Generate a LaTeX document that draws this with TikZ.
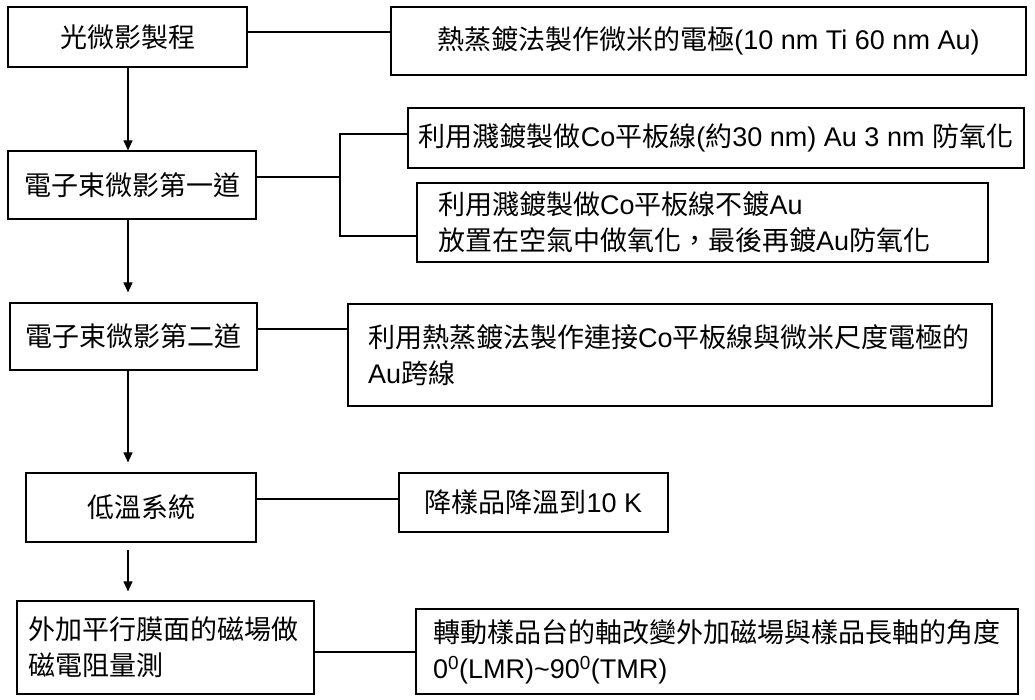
\documentclass[tikz,border=0pt]{standalone}
\usepackage{fontspec}
\setmainfont{Liberation Sans}
\newfontfamily\cjk{Noto Sans CJK TC}
\usetikzlibrary{arrows.meta}
\begin{document}
\begin{tikzpicture}[x=1pt,y=-1pt,
  box/.style={draw=black, line width=1.2pt, inner sep=0pt, font=\fontsize{27}{36}\selectfont, align=center},
  lbox/.style={box, align=left},
  conn/.style={line width=1.1pt},
  arr/.style={conn, -{Triangle[width=9pt,length=10pt]}}]
\useasboundingbox (0,0) rectangle (1035,700);

\node[box, minimum width=239pt, minimum height=60pt] (A) at (127.5,37) {{\cjk 光微影製程}};
\node[box, minimum width=635pt, minimum height=68pt] (B) at (708.5,41) {{\cjk 熱蒸鍍法製作微米的電極}(10 nm Ti 60 nm Au)};
\node[box, minimum width=248pt, minimum height=68pt] (C) at (132,185) {{\cjk 電子束微影第一道}};
\node[box, minimum width=616pt, minimum height=60pt] (D) at (716,138) {{\cjk 利用濺鍍製做}Co{\cjk 平板線}({\cjk 約}30 nm) Au 3 nm {\cjk 防氧化}};
\node[lbox, inner xsep=21pt, text width=529pt, minimum height=79pt] (E) at (702.5,222.5) {{\cjk 利用濺鍍製做}Co{\cjk 平板線不鍍}Au\\{\cjk 放置在空氣中做氧化，最後再鍍}Au{\cjk 防氧化}};
\node[box, minimum width=247pt, minimum height=67pt] (F) at (133.5,336.5) {{\cjk 電子束微影第二道}};
\node[lbox, inner xsep=20pt, text width=604pt, minimum height=102pt] (G) at (670,355) {{\cjk 利用熱蒸鍍法製作連接}Co{\cjk 平板線與微米尺度電極的}\\Au{\cjk 跨線}};
\node[box, minimum width=230pt, minimum height=69pt] (H) at (141,507.5) {{\cjk 低溫系統}};
\node[box, minimum width=269pt, minimum height=59pt] (I) at (533.5,502.5) {{\cjk 降樣品降溫到}10 K};
\node[lbox, inner xsep=11pt, text width=275pt, minimum height=93pt] (J) at (165.5,647.5) {{\cjk 外加平行膜面的磁場做}\\{\cjk 磁電阻量測}};
\node[lbox, inner xsep=17pt, text width=568pt, minimum height=85pt] (K) at (717,651.5) {{\cjk 轉動樣品台的軸改變外加磁場與樣品長軸的角度}\\0\textsuperscript{0}(LMR)\textasciitilde 90\textsuperscript{0}(TMR)};

\coordinate (ax) at (128,0);
\coordinate (lAB) at (0,32);
\coordinate (bm) at (340,177);
\coordinate (bt) at (340,134);
\coordinate (bb) at (340,236);
\coordinate (lFG) at (0,329);
\coordinate (lHI) at (0,499);
\coordinate (lJK) at (0,652);

\draw[arr] (A.south -| ax) -- (C.north -| ax);
\draw[arr, shorten >=10pt] (C.south -| ax) -- (F.north -| ax);
\draw[arr, shorten >=10pt] (F.south -| ax) -- (H.north -| ax);
\draw[arr, shorten <=7pt, shorten >=9pt] (H.south -| ax) -- (J.north -| ax);

\draw[conn] (A.east |- lAB) -- (B.west |- lAB);
\draw[conn] (C.east |- bm) -- (bm);
\draw[conn] (D.west |- bt) -- (bt) -- (bb) -- (E.west |- bb);
\draw[conn] (F.east |- lFG) -- (G.west |- lFG);
\draw[conn] (H.east |- lHI) -- (I.west |- lHI);
\draw[conn] (J.east |- lJK) -- (K.west |- lJK);
\end{tikzpicture}
\end{document}
